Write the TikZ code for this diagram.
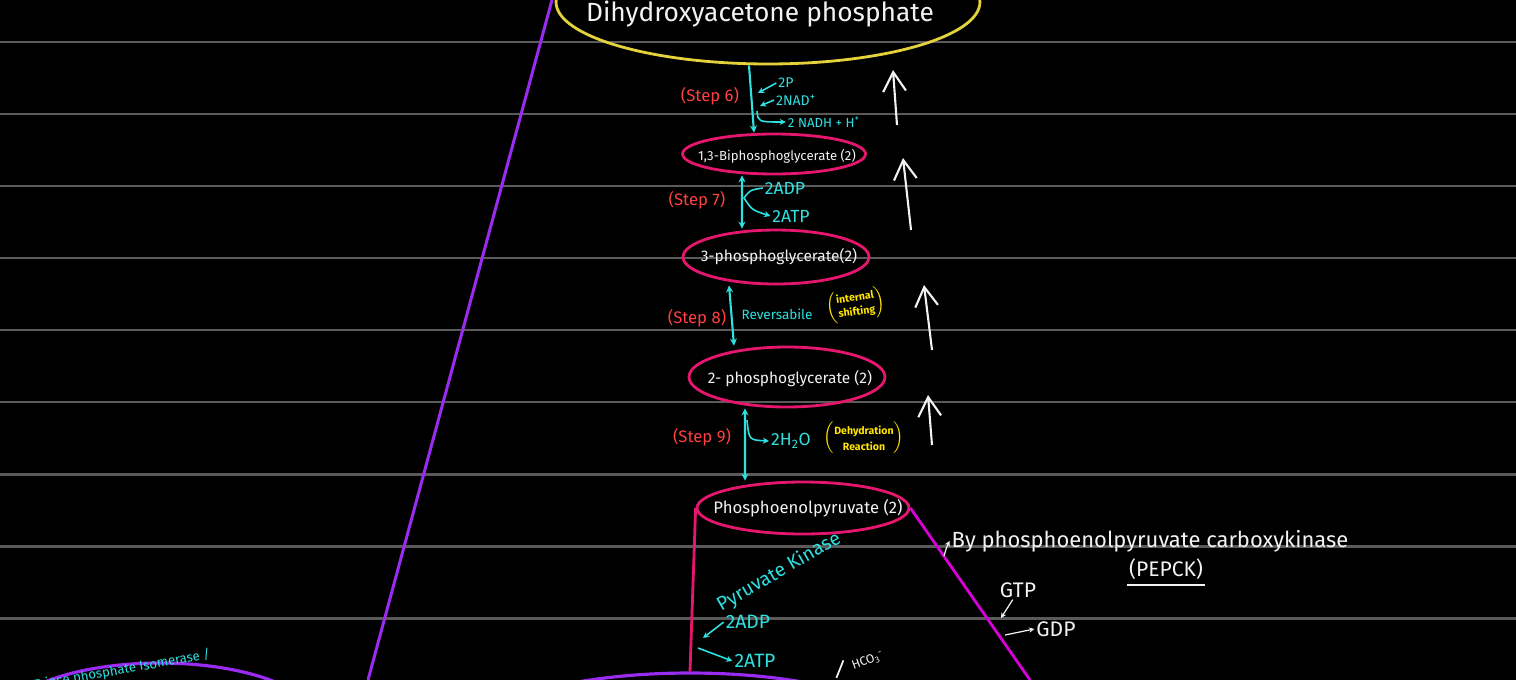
\documentclass[tikz,border=0pt]{standalone}
\usepackage{fontspec}
\setmainfont{Fira Sans}
\usetikzlibrary{shapes.geometric,arrows.meta}
\definecolor{rulec}{HTML}{5A5A5A}
\definecolor{dhapc}{HTML}{E3D23C}
\definecolor{ovalc}{HTML}{E5166E}
\definecolor{cyanc}{HTML}{2EE0E0}
\definecolor{stepc}{HTML}{FF4040}
\definecolor{notec}{HTML}{FFE600}
\definecolor{violc}{HTML}{9A2BF0}
\definecolor{magc}{HTML}{D600D6}
\definecolor{inkc}{HTML}{F2F2F2}
\tikzset{
  rule/.style={draw=rulec, line width=1.7pt},
  oval/.style={ellipse, draw=ovalc, line width=1.6pt, inner sep=0pt},
  wtext/.style={text=inkc, inner sep=1pt},
  ctext/.style={text=cyanc, inner sep=1pt},
  steptext/.style={text=stepc, inner sep=1pt, font=\fontsize{9.5}{11}\selectfont},
  ytext/.style={text=notec, inner sep=0pt, align=center, font=\fontsize{6}{6.5}\selectfont\bfseries},
  flow/.style={draw=cyanc, line width=1.2pt},
  sflow/.style={draw=cyanc, line width=0.9pt, -{Stealth[length=3.5pt,width=3.5pt]}},
  wline/.style={draw=inkc, line width=0.7pt},
  handarrow/.style={draw=inkc, line width=1.2pt, -{Straight Barb[length=11pt,width=13pt]}},
}
\begin{document}
\begin{tikzpicture}[x=0.02cm,y=-0.02cm]
  \fill[black] (0,0) rectangle (1516,680);
  \useasboundingbox (0,0) rectangle (1516,680);
  % Ruled lines
  \foreach \y in {42,114,...,618} {
    \draw[rule] (0,\y) -- (1516,\y);
  }
  % Long side lines
  \coordinate (vtop) at (552,0);
  \coordinate (vbot) at (368,680);
  \draw[draw=violc, line width=1.7pt] (vtop) -- (vbot);

  % Ovals of the chain
  \node[oval, draw=dhapc, minimum width=8.48cm, minimum height=2.48cm] (dhap) at (768,2) {};
  \node[wtext, font=\fontsize{15}{17}\selectfont] (dhaptxt) at (760,14) {Dihydroxyacetone phosphate};
  \node[oval, minimum width=3.66cm, minimum height=0.8cm] (bpg) at (774,154) {};
  \node[wtext, font=\fontsize{7.5}{9}\selectfont] (bpgtxt) at (777,156) {1,3-Biphosphoglycerate (2)};
  \node[oval, minimum width=3.72cm, minimum height=1.08cm] (pgthree) at (776,257) {};
  \node[wtext, font=\fontsize{8.8}{10}\selectfont] (pgthreetxt) at (779,257) {3-phosphoglycerate(2)};
  \node[oval, minimum width=3.92cm, minimum height=1.2cm] (pgtwo) at (787,377) {};
  \node[wtext, font=\fontsize{8.8}{10}\selectfont] (pgtwotxt) at (790,379) {2- phosphoglycerate (2)};
  \node[oval, minimum width=4.24cm, minimum height=1.04cm] (pep) at (803,508) {};
  \node[wtext, font=\fontsize{9.5}{11}\selectfont] (peptxt) at (808,508) {Phosphoenolpyruvate (2)};
  % Ovals cut by the bottom edge
  \node[ellipse, draw=violc, line width=1.8pt, minimum width=8.52cm, minimum height=2.4cm] (pyr) at (690,733) {};
  \node[ellipse, draw=violc, line width=1.8pt, minimum width=6.32cm, minimum height=2.4cm] (gap) at (160,723) {};

  % Step 6
  \draw[flow, -{Stealth[length=4pt,width=4pt]}] ([xshift=-0.38cm]dhap.south) -- ([xshift=-0.4cm]bpg.north);
  \node[steptext] (s6) at (710,96) {(Step 6)};
  \node[ctext, font=\fontsize{8}{9}\selectfont] (p2) at (786,83) {2P};
  \node[ctext, font=\fontsize{8}{9}\selectfont] (nad) at (796,100) {2NAD\textsuperscript{+}};
  \node[ctext, font=\fontsize{7.5}{9}\selectfont] (nadh) at (824,122) {2 NADH + H\textsuperscript{+}};
  \coordinate (s6a) at (758,93);
  \coordinate (s6b) at (760,106);
  \coordinate (s6c) at (757,111);
  \draw[sflow] (p2.west) -- (s6a);
  \draw[sflow] (nad.west) -- (s6b);
  \draw[sflow] (s6c) .. controls (758,122) .. (nadh.west);

  % Step 7
  \draw[flow, {Stealth[length=4pt,width=4pt]}-{Stealth[length=4pt,width=4pt]}] ([xshift=-0.64cm]bpg.south) -- ([xshift=-0.68cm]pgthree.north);
  \node[steptext] (s7) at (697,200) {(Step 7)};
  \node[ctext, font=\fontsize{10}{11}\selectfont] (adp) at (785,188) {2ADP};
  \node[ctext, font=\fontsize{10}{11}\selectfont] (atp) at (791,216) {2ATP};
  \draw[sflow] (adp.west) .. controls (750,190) .. (744,198) .. controls (752,210) .. (atp.west);

  % Step 8
  \draw[flow, {Stealth[length=4pt,width=4pt]}-{Stealth[length=4pt,width=4pt]}] ([xshift=-0.94cm]pgthree.south) -- ([xshift=-1.06cm]pgtwo.north);
  \node[steptext] (s8) at (697,318) {(Step 8)};
  \node[ctext, font=\fontsize{7.7}{9}\selectfont] (rev) at (777,314) {Reversabile};
  \node[ytext, rotate=8] (shift) at (856,305) {$\left(\vcenter{\hbox{\shortstack{internal\\shifting}}}\right)$};

  % Step 9
  \draw[flow, {Stealth[length=4pt,width=4pt]}-{Stealth[length=4pt,width=4pt]}] ([xshift=-0.84cm]pgtwo.south) -- ([xshift=-1.16cm]pep.north);
  \node[steptext] (s9) at (702,437) {(Step 9)};
  \node[ctext, font=\fontsize{10}{11}\selectfont] (water) at (791,441) {2H\textsubscript{2}O};
  \coordinate (s9a) at (747,420);
  \draw[sflow] (s9a) .. controls (749,440) .. (water.west);
  \node[ytext] (dehyd) at (864,438) {$\left(\vcenter{\hbox{\shortstack{Dehydration\\Reaction}}}\right)$};

  % Pyruvate kinase branch
  \draw[draw=ovalc, line width=1.6pt] (pep.west) -- (pyr.north);
  \node[ctext, rotate=30, font=\fontsize{11}{12}\selectfont] (pk) at (779,572) {Pyruvate Kinase};
  \node[ctext, font=\fontsize{11}{12}\selectfont] (adpb) at (748,622) {2ADP};
  \node[ctext, font=\fontsize{11}{12}\selectfont] (atpb) at (755,661) {2ATP};
  \coordinate (kina) at (703,638);
  \coordinate (kinb) at (698,648);
  \draw[sflow] (adpb.west) -- (kina);
  \draw[sflow] (kinb) -- (atpb.west);
  \node[ctext, rotate=10, font=\fontsize{7.5}{9}\selectfont] (tpi) at (122,670) {Triose phosphate Isomerase /};

  % PEPCK branch
  \coordinate (mbot) at (1030,680);
  \draw[draw=magc, line width=1.6pt] (pep.east) -- (mbot);
  \node[wtext, font=\fontsize{12.5}{14}\selectfont] (by) at (1150,541) {By phosphoenolpyruvate carboxykinase};
  \coordinate (bya) at (944,556);
  \draw[wline, -{Stealth[length=3pt,width=3pt]}] (bya) .. controls (947,546) .. (by.west);
  \node[wtext, font=\fontsize{12}{14}\selectfont] (pepck) at (1166,569) {(PEPCK)};
  \draw[wline] ([yshift=-2pt]pepck.south west) -- ([yshift=-2pt]pepck.south east);
  \node[wtext, font=\fontsize{12}{14}\selectfont] (gtp) at (1018,590) {GTP};
  \node[wtext, font=\fontsize{12}{14}\selectfont] (gdp) at (1056,629) {GDP};
  \coordinate (gtpa) at (1001,618);
  \coordinate (gdpa) at (1005,635);
  \draw[wline, -{Stealth[length=3pt,width=3pt]}] ([xshift=-3pt]gtp.south) -- (gtpa);
  \draw[wline, -{Stealth[length=3pt,width=3pt]}] (gdpa) -- (gdp.west);
  \node[wtext, rotate=20, font=\fontsize{7}{8}\selectfont] (hco) at (868,661) {HCO\textsubscript{3}\textsuperscript{-}};
  \draw[wline, line width=1pt] ([xshift=-8pt,yshift=-6pt]hco.west) -- ([xshift=-4pt,yshift=4pt]hco.west);
  \node[wtext, font=\fontsize{10}{12}\selectfont] (atpc) at (985,690) {ATP};

  % Direction arrows
  \foreach \xa/\ya/\xb/\yb in {897/125/893/70, 911/230/903/158, 932/350/924/285, 932/445/928/395} {
    \draw[handarrow] (\xa,\ya) -- (\xb,\yb);
  }
\end{tikzpicture}
\end{document}
